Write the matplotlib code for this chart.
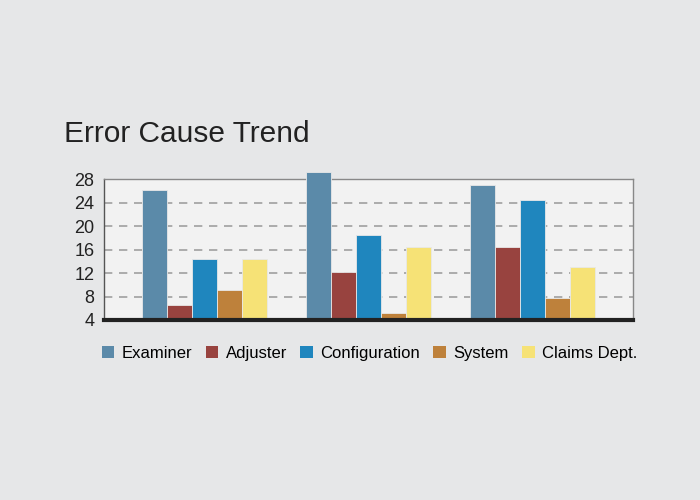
import numpy as np
import matplotlib.pyplot as plt
from matplotlib.patches import Patch

plt.rcParams['font.family'] = ['Liberation Sans', 'DejaVu Sans']

series = ['Examiner', 'Adjuster', 'Configuration', 'System', 'Claims Dept.']
colors = ['#5b8aa9', '#98433f', '#1f86be', '#be813b', '#f6e276']
groups = ['Q1', 'Q2', 'Q3']
values = [
    [26.1, 29.2, 26.9],   # Examiner
    [6.6, 12.2, 16.4],    # Adjuster
    [14.3, 18.4, 24.4],   # Configuration
    [9.1, 5.2, 7.8],      # System
    [14.3, 16.5, 13.0],   # Claims Dept.
]
yticks = [4, 8, 12, 16, 20, 24, 28]

fig = plt.figure(figsize=(7, 5), dpi=100, facecolor='#e6e7e8')
ax = fig.add_axes([0.1486, 0.36, 0.7557, 0.282])
ax.set_facecolor('#f2f2f2')

x = np.arange(len(groups))
w = 0.152
for i, (name, vals) in enumerate(zip(series, values)):
    off = (i - 2) * w
    ax.bar(x + off, np.array(vals) - 4, width=w, bottom=4, color=colors[i],
           edgecolor='#e8e8e8', linewidth=0.6, clip_on=False, zorder=3)

ax.set_xlim(-0.61, 2.61)
ax.set_ylim(4, 28)
ax.set_yticks(yticks)
ax.set_xticks([])
ax.tick_params(axis='y', length=0, labelsize=13, pad=7, colors='#222222')
ax.yaxis.grid(True, linestyle=(0, (5, 4)), color='#a0a0a0', linewidth=1.2, zorder=1)

for s in ['top', 'right']:
    ax.spines[s].set_color('#888888')
    ax.spines[s].set_linewidth(1.0)
ax.spines['left'].set_color('#555555')
ax.spines['left'].set_linewidth(1.0)
ax.spines['bottom'].set_color('#222222')
ax.spines['bottom'].set_linewidth(3)
ax.spines['bottom'].set_zorder(4)

fig.text(0.092, 0.732, 'Error Cause Trend', fontsize=21.5, color='#222222',
         ha='left', va='center')

handles = [Patch(facecolor=c, edgecolor='none') for c in colors]
fig.legend(handles, series, loc='center', bbox_to_anchor=(0.528, 0.293), ncol=5,
           frameon=False, fontsize=12, handlelength=0.75, handleheight=0.75,
           handletextpad=0.45, columnspacing=0.8)

fig.savefig('out.png', dpi=100, facecolor=fig.get_facecolor())
